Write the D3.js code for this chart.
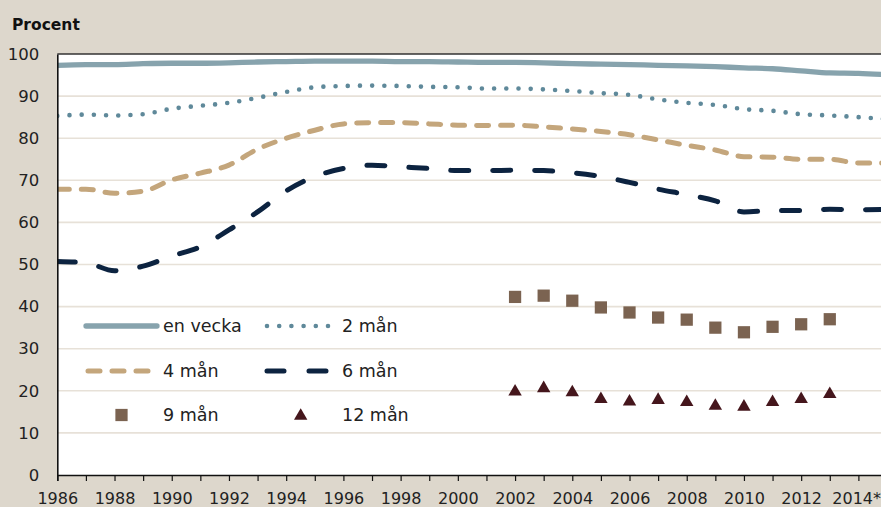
<!DOCTYPE html>
<html>
<head>
<meta charset="utf-8">
<script src="https://cdn.jsdelivr.net/npm/d3@7"></script>
<style>
  html, body { margin: 0; padding: 0; background: #ddd7cc; }
  svg { display: block; font-family: "DejaVu Sans", sans-serif; }
</style>
</head>
<body>
<svg id="chart" width="881" height="507"></svg>
<script>
const years = [1986, 1987, 1988, 1989, 1990, 1991, 1992, 1993, 1994, 1995, 1996, 1997, 1998, 1999, 2000,
  2001, 2002, 2003, 2004, 2005, 2006, 2007, 2008, 2009, 2010, 2011, 2012, 2013, 2014, 2015]

const enVecka = [97.3, 97.5, 97.5, 97.7, 97.8, 97.8, 97.9, 98.1, 98.2, 98.3, 98.3, 98.3, 98.2, 98.2, 98.1,
  98.0, 98.0, 97.9, 97.7, 97.6, 97.5, 97.3, 97.2, 97.0, 96.7, 96.5, 96.0, 95.5, 95.4, 95.1]
const tvaMan = [85.3, 85.6, 85.4, 85.7, 87.0, 87.7, 88.4, 89.6, 91.0, 92.1, 92.4, 92.5, 92.4, 92.2, 92.1,
  91.8, 91.8, 91.6, 91.2, 90.7, 90.3, 89.2, 88.4, 87.9, 86.9, 86.5, 85.7, 85.4, 85.0, 84.5]
const fyraMan = [67.9, 67.9, 66.9, 67.4, 70.1, 71.7, 73.6, 77.4, 80.0, 81.9, 83.4, 83.7, 83.7, 83.4, 83.1,
  83.0, 83.1, 82.7, 82.2, 81.6, 80.8, 79.6, 78.3, 77.2, 75.6, 75.5, 75.0, 75.0, 74.1, 74.1]
const sexMan = [50.7, 50.4, 48.5, 49.6, 52.0, 54.2, 58.2, 62.5, 67.5, 70.9, 72.8, 73.6, 73.2, 72.8, 72.3,
  72.3, 72.4, 72.3, 71.8, 70.9, 69.5, 67.9, 66.6, 65.1, 62.5, 62.8, 62.8, 63.1, 63.0, 63.1]

const markerYears = [2002, 2003, 2004, 2005, 2006, 2007, 2008, 2009, 2010, 2011, 2012, 2013]
const nioMan = [42.3, 42.6, 41.4, 39.8, 38.6, 37.4, 36.9, 35.0, 33.9, 35.2, 35.8, 37.0]
const tolvMan = [19.8, 20.6, 19.6, 18.0, 17.4, 17.8, 17.3, 16.4, 16.2, 17.3, 18.0, 19.2]

const yTicks = [0, 10, 20, 30, 40, 50, 60, 70, 80, 90, 100]
const seriesNames = ["en vecka", "2 mån", "4 mån", "6 mån", "9 mån", "12 mån"]

const width = 881
const height = 507
const plotLeft = 57.3
const plotTop = 54
const plotBottom = 475

const svg = d3.select("#chart")

svg.append("rect")
  .attr("width", width)
  .attr("height", height)
  .attr("fill", "#ddd7cc")

const x = d3.scaleLinear()
  .domain([1986, 2015])
  .range([plotLeft, 887])

const y = d3.scaleLinear()
  .domain([0, 100])
  .range([plotBottom, plotTop])

svg.append("defs").append("clipPath")
  .attr("id", "plot-clip")
  .append("rect")
  .attr("x", plotLeft)
  .attr("y", plotTop)
  .attr("width", width - plotLeft)
  .attr("height", plotBottom - plotTop)

svg.append("rect")
  .attr("x", plotLeft)
  .attr("y", plotTop)
  .attr("width", width - plotLeft)
  .attr("height", plotBottom - plotTop)
  .attr("fill", "white")

// gridlines
svg.append("g")
  .selectAll("line")
  .data(yTicks.filter(d => d > 0 && d < 100))
  .join("line")
  .attr("x1", plotLeft)
  .attr("x2", width)
  .attr("y1", d => y(d))
  .attr("y2", d => y(d))
  .attr("stroke", "#e7e1d8")
  .attr("stroke-width", 1.6)

svg.append("line")
  .attr("x1", plotLeft)
  .attr("x2", width)
  .attr("y1", plotTop)
  .attr("y2", plotTop)
  .attr("stroke", "#333")
  .attr("stroke-width", 1.5)

const lines = [
  { name: seriesNames[0], values: enVecka, color: "#87a3ad", width: 5.3, dash: null },
  { name: seriesNames[1], values: tvaMan, color: "#5f899a", width: 4.6, dash: "0,12.2" },
  { name: seriesNames[2], values: fyraMan, color: "#c4a67c", width: 5, dash: "12,12" },
  { name: seriesNames[3], values: sexMan, color: "#0c2340", width: 5, dash: "18,24" }
]

const lineGen = d3.line()
  .x(d => x(d[0]))
  .y(d => y(d[1]))
  .curve(d3.curveMonotoneX)

const plot = svg.append("g").attr("clip-path", "url(#plot-clip)")

lines.forEach(s => {
  plot.append("path")
    .attr("d", lineGen(years.map((yr, i) => [yr, s.values[i]])))
    .attr("fill", "none")
    .attr("stroke", s.color)
    .attr("stroke-width", s.width)
    .attr("stroke-linecap", s.dash ? "round" : "butt")
    .attr("stroke-dasharray", s.dash)
})

plot.append("g")
  .selectAll("path")
  .data(markerYears.map((yr, i) => [yr, nioMan[i]]))
  .join("path")
  .attr("transform", d => `translate(${x(d[0])},${y(d[1])})`)
  .attr("d", d3.symbol(d3.symbolSquare, 150))
  .attr("fill", "#7b6351")

plot.append("g")
  .selectAll("path")
  .data(markerYears.map((yr, i) => [yr, tolvMan[i]]))
  .join("path")
  .attr("transform", d => `translate(${x(d[0])},${y(d[1])})`)
  .attr("d", d3.symbol(d3.symbolTriangle, 78))
  .attr("fill", "#45161c")

// axes
const xAxis = svg.append("g")
  .attr("transform", `translate(0,${plotBottom})`)
  .call(d3.axisBottom(x)
    .tickValues(years.filter(d => d < 2015))
    .tickSizeOuter(0)
    .tickSize(6)
    .tickFormat(d => d === 2014 ? "2014*" : (d % 2 ? "" : d)))

xAxis.select(".domain").attr("stroke", "#111").attr("stroke-width", 1.6)
xAxis.selectAll(".tick line").attr("stroke", "#111").attr("stroke-width", 1.2)
xAxis.selectAll("text")
  .attr("y", 28.5)
  .attr("dy", 0)
  .attr("font-size", 16)
  .attr("font-family", "DejaVu Sans, sans-serif")
  .attr("fill", "#222")

// keep the last label inside the picture
xAxis.selectAll(".tick")
  .filter(d => d === 2014)
  .select("text")
  .attr("text-anchor", "end")
  .attr("x", width - 0.5 - x(2014))

const yAxis = svg.append("g")
  .attr("transform", `translate(${plotLeft},0)`)
  .call(d3.axisLeft(y)
    .tickValues(yTicks)
    .tickSize(0)
    .tickPadding(18))

yAxis.select(".domain").attr("stroke", "#111").attr("stroke-width", 1.6)
yAxis.selectAll("text")
  .attr("font-size", 16.5)
  .attr("font-family", "DejaVu Sans, sans-serif")
  .attr("fill", "#222")

svg.append("text")
  .attr("x", 12)
  .attr("y", 30)
  .attr("font-size", 15.5)
  .attr("font-weight", "bold")
  .attr("fill", "#111")
  .text("Procent")

// legend
const legend = svg.append("g")
const rowY = [326, 371, 415]
const colX = [86, 265]
const textX = [163, 342]
const sampleW = 66

lines.forEach((s, i) => {
  const r = Math.floor(i / 2)
  const c = i % 2
  const x0 = colX[c] + (i === 0 ? 0 : 2)
  const x1 = i === 0 ? 157 : x0 + sampleW - 2
  legend.append("line")
    .attr("x1", x0)
    .attr("x2", x1)
    .attr("y1", rowY[r])
    .attr("y2", rowY[r])
    .attr("stroke", s.color)
    .attr("stroke-width", s.width)
    .attr("stroke-linecap", "round")
    .attr("stroke-dasharray", i === 3 ? "17,25" : s.dash)
})

legend.append("path")
  .attr("transform", `translate(121.5,${rowY[2]})`)
  .attr("d", d3.symbol(d3.symbolSquare, 150))
  .attr("fill", "#7b6351")

legend.append("path")
  .attr("transform", `translate(300.7,${rowY[2] + 1})`)
  .attr("d", d3.symbol(d3.symbolTriangle, 78))
  .attr("fill", "#45161c")

legend.selectAll("text")
  .data(seriesNames)
  .join("text")
  .attr("x", (d, i) => textX[i % 2])
  .attr("y", (d, i) => rowY[Math.floor(i / 2)])
  .attr("dy", "0.36em")
  .attr("font-size", 17.5)
  .attr("fill", "#222")
  .text(d => d)
</script>
</body>
</html>
